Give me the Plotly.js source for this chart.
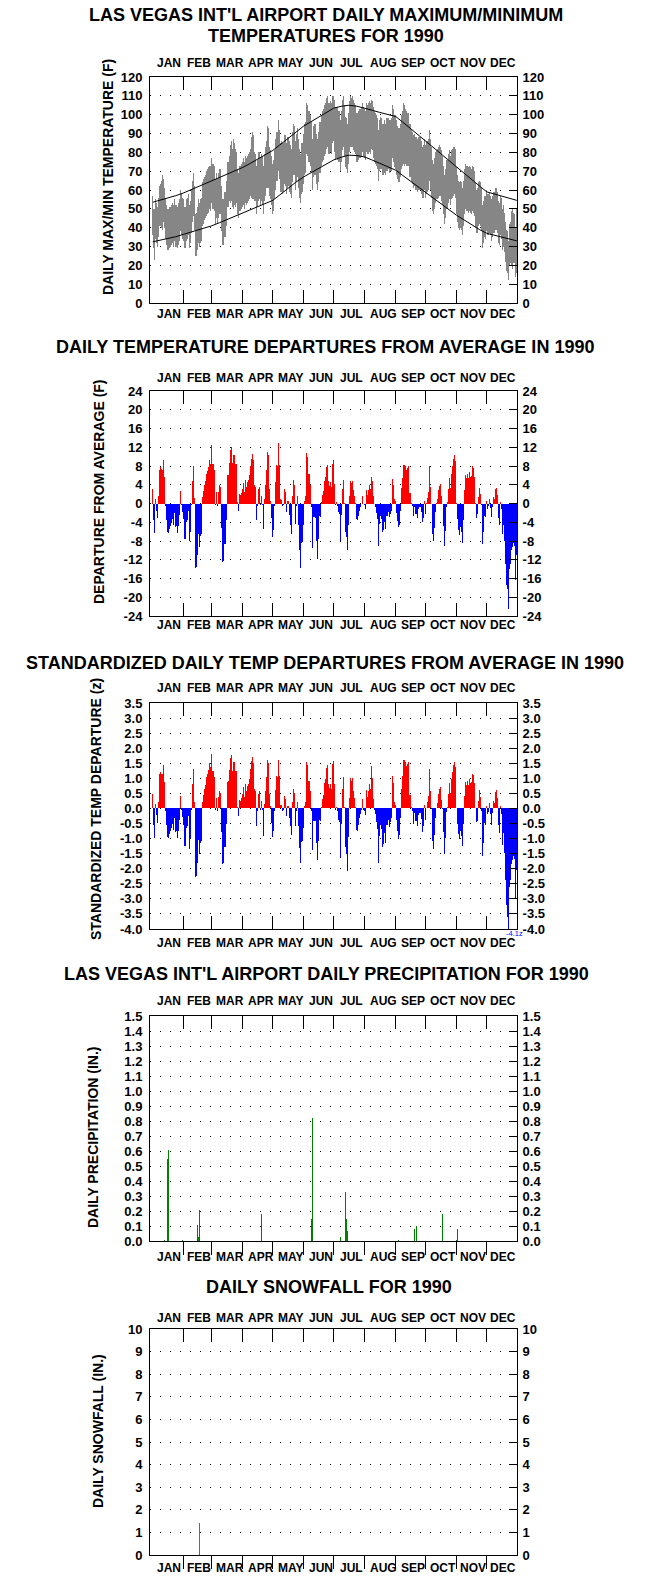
<!DOCTYPE html>
<html><head><meta charset="utf-8">
<script src="https://cdn.plot.ly/plotly-3.0.1.min.js"></script>
<style>html,body{margin:0;padding:0;background:#fff;}#chart{width:654px;height:1588px;}</style>
</head><body><div id="chart"></div>
<script>
// ---------------- DATA ----------------
const months = ['JAN','FEB','MAR','APR','MAY','JUN','JUL','AUG','SEP','OCT','NOV','DEC'];
const monthLabelDays = [17,47,78,109,139,169,200,232,261.5,291.5,321.5,351.5];
const monthStarts = [31.5,59.5,90.5,120.5,151.5,181.5,212.5,243.5,273.5,304.5,334.5];

// daily maximum temperature (F), 1990
const tmax = [
57,50,50,55,53,51,56,62,63,65,68,66,61,55,52,50,50,51,51,52,53,52,55,52,52,51,53,55,60,58,56,
55,51,51,55,56,58,52,54,60,65,69,62,47,48,51,55,53,55,56,64,66,67,68,70,71,72,73,73,
77,74,74,73,66,69,66,69,71,71,62,55,55,59,59,65,75,75,78,84,86,82,87,85,82,80,71,69,73,73,74,
75,77,75,78,77,78,79,80,82,88,91,89,80,79,73,76,80,80,77,79,78,73,79,83,86,94,93,83,81,78,
74,76,81,87,91,91,97,92,85,86,85,85,89,89,85,88,88,86,84,82,91,95,94,86,90,93,87,82,79,85,85,
90,95,96,106,105,102,102,100,96,87,94,95,95,90,87,91,96,96,100,102,103,105,106,109,110,106,106,107,106,110,
110,108,104,104,104,102,102,97,102,108,110,105,99,98,95,101,107,110,109,110,108,106,105,101,101,102,103,103,104,106,104,
103,102,106,105,106,107,106,108,107,104,102,101,100,98,92,97,99,98,95,95,97,95,98,98,98,97,97,98,105,103,100,
100,97,94,93,93,95,100,102,106,105,103,102,101,101,95,95,92,91,89,90,88,88,87,88,88,88,86,83,84,87,
84,86,86,87,92,87,83,76,74,77,80,81,82,83,84,83,81,78,73,68,71,76,76,79,81,78,81,82,83,83,82,
72,68,65,64,65,64,61,65,71,74,73,73,72,73,72,71,73,72,70,64,60,61,64,65,64,61,52,54,57,57,
60,58,58,59,57,55,57,59,59,61,61,59,54,53,57,56,50,52,48,43,39,38,33,42,43,49,50,48,47,40,50
];
// daily minimum temperature (F), 1990
const tmin = [
36,29,23,34,32,30,35,41,41,40,39,43,40,34,31,28,28,29,30,31,32,30,33,30,30,29,31,33,38,36,34,
33,29,29,33,34,36,29,32,37,43,46,39,25,25,28,32,30,32,33,41,42,44,45,46,47,48,50,49,
53,50,50,49,42,45,42,45,47,47,38,31,31,35,35,41,51,51,54,53,54,51,50,52,51,53,47,45,49,49,50,
51,52,50,53,52,53,54,55,57,56,55,55,54,54,47,51,54,55,52,54,52,47,54,57,61,61,61,57,55,52,
47,49,55,60,65,65,70,66,59,59,58,59,63,62,58,61,62,59,58,56,64,68,68,60,64,67,61,56,53,58,59,
63,68,69,79,78,75,75,73,69,60,67,68,68,63,60,64,69,69,73,75,76,78,79,82,83,79,79,80,79,85,
86,80,76,77,76,75,75,70,75,81,83,78,72,71,69,74,80,83,83,83,81,80,79,75,75,76,77,77,78,80,78,
77,76,80,79,79,80,79,82,81,77,75,74,73,71,65,70,71,71,68,68,69,68,70,70,71,69,70,70,77,75,72,
71,68,66,64,64,67,71,73,74,73,74,73,73,73,67,67,64,63,61,62,60,60,59,60,60,60,58,56,56,60,
56,58,59,60,65,60,56,49,47,50,53,55,55,56,57,57,54,52,47,42,45,50,50,53,55,52,55,56,57,58,56,
47,43,40,39,40,39,36,41,47,50,49,49,48,49,48,47,49,48,46,40,37,37,41,42,41,38,29,32,35,34,
38,36,36,37,36,33,35,37,37,39,39,37,32,31,36,34,28,30,27,22,17,16,12,20,21,20,18,21,21,14,16
];
// normal max/min curves
const normDays = [1,8,16,24,32,40,48,56,60,68,76,84,91,98,106,114,121,128,136,144,152,159,166,174,182,190,197,205,213,220,228,236,244,251,258,266,274,281,289,297,305,312,320,328,335,343,350,358,365];
const normMax = [53.5,54.5,55.8,57,58.5,60.3,62,63.8,65,66.7,68.5,70.3,72,74,76.3,78.6,81,83.9,87.3,90.6,94,96.2,98.3,100.8,103.5,104.5,105,104.5,103.5,102.4,101.2,100,99,96,93,89.5,86,82.9,79.3,75.7,72,69,65.5,62,59,57.8,56.7,55.6,54.5];
const normMin = [32.5,33.3,34.3,35.2,36.5,37.7,38.9,40.1,41,42.7,44.5,46.2,47.5,49.2,51.1,53,54.5,57.4,60.8,64.1,67,69.2,71.3,73.8,76,77.5,78.5,78.3,77.5,76,74.2,72.5,70.5,67.7,64.9,61.7,58.5,55.8,52.8,49.7,46.5,44.2,41.5,38.9,37,35.9,35,33.9,33];

// daily temperature departure from average (F)
const depF = [
3,-3.5,-6.3,1,-1.5,-3,1.5,7.2,7.8,7.4,7.2,9.3,5.6,-0.5,-3.6,-6,-6.3,-5.5,-4.8,-4.2,-3.3,-4.5,-2,-5,-4.8,-6.2,-4.8,-2.5,2.7,-0.3,-1.8,
-3.3,-7.6,-7.6,-4,-3.5,-1.5,-8.1,-6,-0.3,4.9,8,1.2,-13.8,-13.6,-11,-6.4,-9.2,-7,-6.5,1.3,2.7,4,4.8,6.4,7,7.8,9.2,8.4,
12.4,8.4,8.4,7.2,-0.3,2.4,-0.5,2.5,4,3.5,-5.3,-12.5,-12.3,-8.7,-8.7,-3.5,6,6.1,8.7,11.4,12,8.6,10.4,10.4,8.5,8.5,0.3,-1.6,2,1.8,2.3,
3,4.3,2.4,5,3.5,4.6,5,6,8,9.5,10.5,9.2,4,3.5,-3.5,-0.5,3,3.5,-0.3,1.5,-0.3,-5.5,1,4,7.2,11,10.3,3,0.5,-3,
-7.2,-5.6,-0.5,4.6,8.3,8,13,8.3,1,0.8,-0.6,-0.3,3.1,2.5,-1.9,0.6,0.6,-2.5,-4.5,-6.6,1.6,5,4,-4.3,-0.6,1.7,-4.5,-10,-13.7,-8.5,-8.3,
-4.5,0.5,1.6,10.7,10,6.2,6.2,4,-0.7,-9.5,-2.8,-2.8,-3,-8,-11.8,-7.5,-2.7,-2.9,0.3,1.8,2.6,4.9,5.6,7.7,8.2,4.7,3.8,4.6,3.6,8.4,
9.2,4.2,-0.3,0.3,-0.5,-1.8,-2.2,-7.9,-2.5,3.1,5.1,0.2,-6.1,-7.2,-9.9,-4.5,1.7,4.8,4.3,4.9,2.8,1.7,0.2,-3.4,-3.6,-2.6,-1.5,-0.8,-0.2,1.6,-0.2,
-0.4,-1.1,2.9,1.8,2.8,3.9,3.1,5.7,4.9,1.6,-0.2,-0.8,-2.1,-3.3,-9.1,-4.3,-2.6,-3.3,-6.1,-5.6,-4,-5.4,-2.6,-2.6,-1.8,-2.9,-2.2,-1.5,5.2,4,1,
0.6,-2,-3.8,-5.1,-4.5,-1.7,3.3,5.5,8.2,8.2,7.9,7.2,7.5,7.9,2.3,2.3,0.2,-0.5,-2.7,-0.8,-2.2,-2.2,-3,-1.1,-0.8,-0.8,-1.8,-4,-3,0.5,
-2.2,0.2,1.2,2.4,7.9,3.5,-0.2,-6.5,-8,-5.2,-1.8,0.2,1,2.9,3.8,4.2,1.7,-0.2,-4.7,-9.1,-5.9,-0.8,0.3,3.1,5.4,3.3,6.3,7.9,9.5,10.4,9.1,
0.2,-3.4,-5.7,-6.8,-5,-6.1,-8.4,-3.6,2.8,6,5.4,6.2,5.4,6.7,5.7,5.9,7.9,7.5,5.7,0.2,-3,-2.3,1.3,3.3,2,-0.4,-8.6,-6.1,-2.6,-2.9,
0.5,-1.1,-0.6,0.9,-0.9,-2.9,-0.8,1.3,0.9,3,3.3,1.9,-3,-4.5,0.4,-1.1,-6.5,-4.5,-8,-12.8,-17.3,-18.3,-22.5,-14,-12.8,-10,-9.3,-8.5,-9,-16.3,-11
];
// standardized daily temperature departure (z)
const depZ = [
0.47,-0.55,-0.98,0.16,-0.23,-0.47,0.23,1.13,1.22,1.16,1.13,1.45,0.88,-0.08,-0.56,-0.94,-0.98,-0.86,-0.75,-0.66,-0.52,-0.70,-0.31,-0.78,-0.75,-0.97,-0.75,-0.39,0.42,-0.05,-0.28,
-0.54,-1.25,-1.25,-0.66,-0.57,-0.25,-1.33,-0.98,-0.05,0.80,1.31,0.20,-2.26,-2.23,-1.80,-1.05,-1.51,-1.15,-1.07,0.21,0.44,0.66,0.79,1.05,1.15,1.28,1.51,1.38,
1.82,1.24,1.24,1.06,-0.04,0.35,-0.07,0.37,0.59,0.51,-0.78,-1.84,-1.81,-1.28,-1.28,-0.51,0.88,0.90,1.28,1.68,1.76,1.26,1.53,1.53,1.25,1.25,0.04,-0.24,0.29,0.26,0.34,
0.49,0.70,0.39,0.82,0.57,0.75,0.82,0.98,1.31,1.56,1.72,1.51,0.66,0.57,-0.57,-0.08,0.49,0.57,-0.05,0.25,-0.05,-0.90,0.16,0.58,1.05,1.60,1.50,0.49,0.08,-0.49,
-0.95,-0.74,-0.07,0.61,1.09,1.05,1.62,1.09,0.13,0.11,-0.08,-0.04,0.41,0.33,-0.25,0.08,0.08,-0.33,-0.59,-0.87,0.21,0.66,0.53,-0.57,-0.08,0.22,-0.59,-1.32,-1.80,-1.12,-1.09,
-0.65,0.07,0.23,1.55,1.45,0.90,0.90,0.58,-0.10,-1.38,-0.41,-0.41,-0.43,-1.16,-1.71,-1.09,-0.39,-0.42,0.04,0.32,0.46,0.86,0.98,1.35,1.44,0.82,0.67,0.81,0.63,1.47,
1.56,0.80,-0.06,0.06,-0.10,-0.38,-0.46,-1.65,-0.52,0.65,1.06,0.04,-1.27,-1.50,-2.06,-0.94,0.35,1.00,0.90,1.02,0.58,0.35,0.04,-0.71,-0.75,-0.54,-0.31,-0.17,-0.04,0.33,-0.04,
-0.08,-0.23,0.60,0.38,0.58,0.81,0.65,1.40,1.02,0.33,-0.04,-0.17,-0.44,-0.69,-1.80,-0.90,-0.54,-0.69,-1.27,-1.17,-0.83,-1.13,-0.54,-0.54,-0.38,-0.60,-0.46,-0.31,1.08,0.83,0.21,
0.12,-0.39,-0.75,-1.00,-0.88,-0.33,0.65,1.08,1.61,1.61,1.55,1.41,1.47,1.55,0.45,0.45,0.04,-0.10,-0.53,-0.16,-0.43,-0.43,-0.59,-0.22,-0.16,-0.16,-0.35,-0.78,-0.59,0.10,
-0.37,0.03,0.20,0.40,1.32,0.58,-0.03,-1.08,-1.33,-0.87,-0.30,0.03,0.17,0.48,0.63,0.70,0.28,-0.03,-0.78,-1.52,-0.98,-0.13,0.05,0.48,0.83,0.51,0.97,1.20,1.43,1.55,1.36,
0.03,-0.50,-0.84,-1.00,-0.74,-0.90,-1.24,-0.53,0.41,0.88,0.79,0.91,0.79,0.99,0.84,0.87,1.16,1.10,0.84,0.03,-0.44,-0.43,0.24,0.61,0.37,-0.07,-1.59,-1.13,-0.48,-0.54,
0.09,-0.20,-0.11,0.17,-0.17,-0.54,-0.15,0.24,0.17,0.56,0.61,0.35,-0.56,-0.83,0.07,-0.20,-1.20,-0.83,-1.48,-2.37,-3.20,-3.60,-4.10,-2.59,-2.37,-1.85,-1.72,-1.57,-1.67,-3.02,-2.04
];
// daily precipitation (in.)
const precipDays = [13,16,17,31,46,47,48,110,160,161,189,194,195,196,247,263,265,291,305,306];
const precipIn   = [0.01,0.55,0.61,0.01,0.11,0.03,0.21,0.18,0.15,0.82,0.03,0.33,0.15,0.07,0.01,0.08,0.10,0.18,0.01,0.08];
// daily snowfall (in.)
const snowDays = [48];
const snowIn = [1.4];

// ---------------- LAYOUT HELPERS ----------------
const W = 654, H = 1588;
const FONT = 'Liberation Sans, Arial, Helvetica, sans-serif';
const days = tmax.map((_, i) => i + 1);
const xdom = [150 / W, 517 / W];
const xrange = [-1.8, 365.2];
const panels = [
  {top: 77, bottom: 303, labTop: 63, labBot: 314},
  {top: 391, bottom: 616, labTop: 378, labBot: 625},
  {top: 703, bottom: 929, labTop: 688, labBot: 943},
  {top: 1016, bottom: 1241, labTop: 1001, labBot: 1257},
  {top: 1329, bottom: 1555, labTop: 1318, labBot: 1568}
];
function seq(a, b, s) { const out = []; const n = Math.round((b - a) / s); for (let i = 0; i <= n; i++) out.push(+(a + i * s).toFixed(4)); return out; }
const yTicks = [
  {range: [0, 120], vals: seq(0, 120, 10), fmt: v => String(v)},
  {range: [-24, 24], vals: seq(-24, 24, 4), fmt: v => String(v)},
  {range: [-4, 3.5], vals: seq(-4, 3.5, 0.5), fmt: v => v.toFixed(1)},
  {range: [0, 1.5], vals: seq(0, 1.5, 0.1), fmt: v => v.toFixed(1)},
  {range: [0, 10], vals: seq(0, 10, 1), fmt: v => String(v)}
];
const bottomOutside = [false, false, false, true, true];
const tickFontY = {family: FONT, size: 13, color: '#000', weight: 'bold'};

const layout = {
  width: W, height: H,
  margin: {l: 0, r: 0, t: 0, b: 0},
  paper_bgcolor: '#fff', plot_bgcolor: '#fff',
  showlegend: false, bargap: 0,
  font: {family: FONT, color: '#000'},
  annotations: []
};
function xid(k) { return k === 1 ? 'x' : 'x' + k; }
function yid(k) { return k === 1 ? 'y' : 'y' + k; }
function xkey(k) { return k === 1 ? 'xaxis' : 'xaxis' + k; }
function ykey(k) { return k === 1 ? 'yaxis' : 'yaxis' + k; }

const traces = [];
panels.forEach((p, i) => {
  const k = i + 1, kt = k + 5;
  const ydom = [1 - p.bottom / H, 1 - p.top / H];
  const yt = yTicks[i];
  const common = {
    range: xrange, tickmode: 'array', tickvals: monthStarts, showticklabels: false,
    ticklen: 13, tickwidth: 1, tickcolor: '#000', showgrid: false, zeroline: false,
    showline: true, linecolor: '#000', linewidth: 1, fixedrange: true
  };
  layout[xkey(k)] = Object.assign({}, common, {
    domain: xdom, anchor: yid(k), side: 'bottom', ticks: bottomOutside[i] ? 'outside' : 'inside'
  });
  layout[xkey(kt)] = Object.assign({}, common, {
    domain: xdom, overlaying: xid(k), anchor: yid(k), side: 'top', ticks: 'inside'
  });
  const ycommon = {
    range: yt.range, tickmode: 'array', tickvals: yt.vals, ticktext: yt.vals.map(yt.fmt),
    zeroline: false, showline: true, linecolor: '#000', linewidth: 1, tickfont: tickFontY, fixedrange: true
  };
  layout[ykey(k)] = Object.assign({}, ycommon, {
    domain: ydom, anchor: xid(k), side: 'left', ticks: '',
    showgrid: true, gridcolor: '#000', gridwidth: 1, griddash: '1px,9px', ticklabelstandoff: 4
  });
  layout[ykey(kt)] = Object.assign({}, ycommon, {
    domain: ydom, overlaying: yid(k), anchor: xid(k), side: 'right', ticks: 'inside', ticklen: 8, tickcolor: '#000', tickwidth: 1,
    showgrid: false, ticklabelstandoff: 2
  });
  // invisible helper traces so that the top and right axes are drawn
  traces.push({type: 'scatter', mode: 'markers', x: [1], y: [yt.range[0]], marker: {opacity: 0},
    xaxis: xid(kt), yaxis: yid(k), hoverinfo: 'skip', showlegend: false});
  traces.push({type: 'scatter', mode: 'markers', x: [1], y: [yt.range[0]], marker: {opacity: 0},
    xaxis: xid(k), yaxis: yid(kt), hoverinfo: 'skip', showlegend: false});
  // month labels, top and bottom
  months.forEach((m, j) => {
    [p.labTop, p.labBot].forEach(py => {
      layout.annotations.push({text: '<b>' + m + '</b>', x: monthLabelDays[j], xref: xid(k),
        y: 1 - py / H, yref: 'paper', showarrow: false, xanchor: 'center', yanchor: 'middle',
        font: {family: FONT, size: 12, color: '#000'}});
    });
  });
});

// ---------------- TRACES ----------------
traces.push({type: 'bar', x: days, y: tmax.map((v, i) => v - tmin[i]), base: tmin, width: 1,
  marker: {color: '#868686', line: {width: 0}}, xaxis: 'x', yaxis: 'y', hoverinfo: 'skip'});
traces.push({type: 'scatter', mode: 'lines', x: normDays, y: normMax, line: {color: '#000', width: 1}, xaxis: 'x', yaxis: 'y', hoverinfo: 'skip'});
traces.push({type: 'scatter', mode: 'lines', x: normDays, y: normMin, line: {color: '#000', width: 1}, xaxis: 'x', yaxis: 'y', hoverinfo: 'skip'});
traces.push({type: 'bar', x: days, y: depF, width: 1,
  marker: {color: depF.map(v => v >= 0 ? '#ff0000' : '#0000ff'), line: {width: 0}}, xaxis: 'x2', yaxis: 'y2', hoverinfo: 'skip'});
traces.push({type: 'bar', x: days, y: depZ, width: 1,
  marker: {color: depZ.map(v => v >= 0 ? '#ff0000' : '#0000ff'), line: {width: 0}}, xaxis: 'x3', yaxis: 'y3', hoverinfo: 'skip'});
traces.push({type: 'bar', x: precipDays, y: precipIn, width: 1,
  marker: {color: '#008000', line: {width: 0}}, xaxis: 'x4', yaxis: 'y4', hoverinfo: 'skip'});
traces.push({type: 'bar', x: snowDays, y: snowIn, width: 1,
  marker: {color: '#1e7bc4', line: {width: 0}}, xaxis: 'x5', yaxis: 'y5', hoverinfo: 'skip'});

// ---------------- TEXT ----------------
function ann(text, px, py, size, extra) {
  return Object.assign({text: text, x: px / W, y: 1 - py / H, xref: 'paper', yref: 'paper', showarrow: false,
    xanchor: 'center', yanchor: 'middle', font: {family: FONT, size: size, color: '#000'}}, extra || {});
}
const titles = [
  ["<b>LAS VEGAS INT'L AIRPORT DAILY MAXIMUM/MINIMUM</b>", 326, 15],
  ['<b>TEMPERATURES FOR 1990</b>', 326, 36],
  ['<b>DAILY TEMPERATURE DEPARTURES FROM AVERAGE IN 1990</b>', 325, 347],
  ['<b>STANDARDIZED DAILY TEMP DEPARTURES FROM AVERAGE IN 1990</b>', 325, 663],
  ["<b>LAS VEGAS INT'L AIRPORT DAILY PRECIPITATION FOR 1990</b>", 326, 974],
  ['<b>DAILY SNOWFALL FOR 1990</b>', 329, 1287]
];
titles.forEach(t => layout.annotations.push(ann(t[0], t[1], t[2], 18)));
const yTitles = [
  ['<b>DAILY MAX/MIN TEMPERATURE (F)</b>', 108, 177],
  ['<b>DEPARTURE FROM AVERAGE (F)</b>', 99, 492],
  ['<b>STANDARDIZED TEMP DEPARTURE (z)</b>', 96, 809],
  ['<b>DAILY PRECIPITATION (IN.)</b>', 93, 1137],
  ['<b>DAILY SNOWFALL (IN.)</b>', 98, 1431]
];
yTitles.forEach(t => layout.annotations.push(ann(t[0], t[1], t[2], 14, {textangle: -90})));
layout.annotations.push(ann('-4.1z', 514, 933.5, 7.5, {font: {family: FONT, size: 7.5, color: '#0000ff'}}));

Plotly.newPlot('chart', traces, layout, {staticPlot: true, displayModeBar: false});
</script>
</body></html>
